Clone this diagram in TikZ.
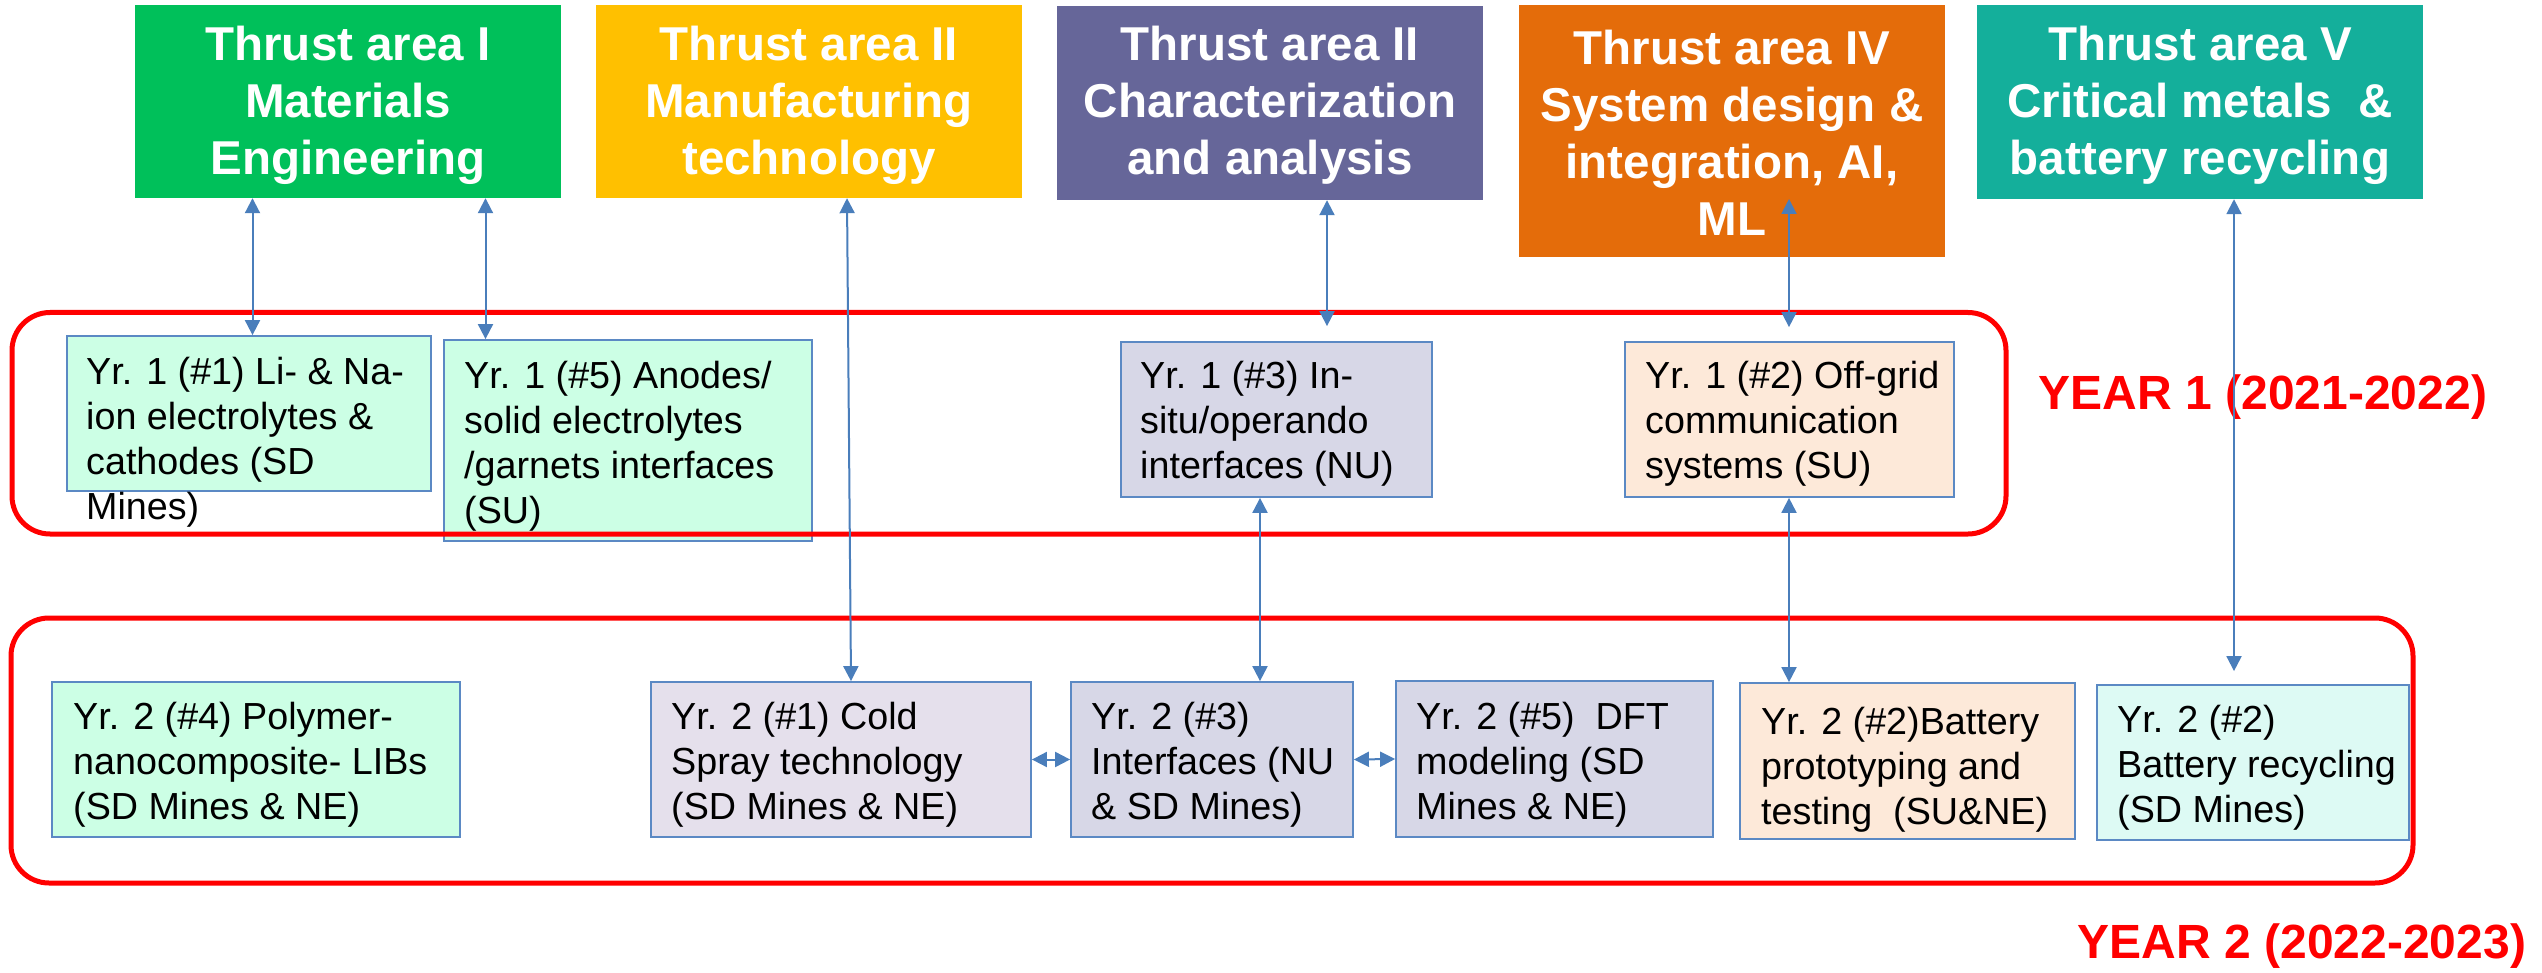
\documentclass[tikz,border=0pt]{standalone}
\usepackage{fontspec}
\setmainfont{Liberation Sans}
\newfontfamily\arialf{Liberation Sans}
\usetikzlibrary{arrows.meta}

\definecolor{tgreen}{HTML}{00C05A}
\definecolor{tyellow}{HTML}{FFC000}
\definecolor{tpurple}{HTML}{666699}
\definecolor{torange}{HTML}{E46C0A}
\definecolor{tteal}{HTML}{14AF9B}
\definecolor{cgreen}{HTML}{CCFFE5}
\definecolor{clav}{HTML}{D7D7E7}
\definecolor{clavlight}{HTML}{E5E0EC}
\definecolor{cpeach}{HTML}{FDE9D9}
\definecolor{ccyan}{HTML}{DDFAF4}
\definecolor{cborder}{HTML}{5B89C4}
\definecolor{linkblue}{HTML}{4A7EBB}
\definecolor{yearred}{HTML}{FF0000}

\tikzset{
  thrust/.style={rectangle, inner sep=0pt, minimum width=426pt, align=center,
    text=white, font=\arialf\fontsize{47.5}{57}\selectfont\bfseries},
  thrusttext/.style={inner sep=0pt, align=center, text=white,
    font=\arialf\fontsize{47.5}{57}\selectfont\bfseries},
  card/.style={rectangle, draw=cborder, line width=1.8pt, inner sep=0pt},
  cardtext/.style={anchor=north west, inner sep=0pt, align=left,
    font=\arialf\fontsize{37.7}{45}\selectfont},
  yearframe/.style={rectangle, draw=yearred, line width=5pt, rounded corners=38pt, inner sep=0pt},
  yearlabel/.style={text=yearred, inner sep=0pt, font=\arialf\fontsize{48}{56}\selectfont\bfseries},
  link/.style={draw=linkblue, line width=2pt,
    {Triangle[length=15pt,width=15pt]}-{Triangle[length=15pt,width=15pt]}}
}

\begin{document}
\begin{tikzpicture}[x=1pt,y=-1pt]
\useasboundingbox (0,0) rectangle (2542,973);

% thrust areas: coloured blocks, titles set slightly below centre
\node[thrust, fill=tgreen,  minimum height=193pt] (t1) at (348,101.5) {};
\node[thrusttext] (t1-t) at (348,105) {Thrust area I\\Materials\\Engineering};
\node[thrust, fill=tyellow, minimum height=193pt] (t2) at (809,101.5) {};
\node[thrusttext] (t2-t) at (809,105) {Thrust area II\\Manufacturing\\technology};
\node[thrust, fill=tpurple, minimum height=194pt] (t3) at (1270,103) {};
\node[thrusttext] (t3-t) at (1270,105) {Thrust area II\\Characterization\\and analysis};
\node[thrust, fill=torange, minimum height=252pt] (t4) at (1732,131) {};
\node[thrusttext] (t4-t) at (1732,133) {Thrust area IV\\System design \&\\integration, AI,\\ML};
\node[thrust, fill=tteal, minimum width=446pt, minimum height=194pt] (t5) at (2200,102) {};
\node[thrusttext] (t5-t) at (2200,105) {Thrust area V\\Critical metals~ \&\\battery recycling};

% year 1 projects
\node[card, fill=cgreen, minimum width=364pt, minimum height=155pt] (y1a) at (249,413.5) {};
\node[cardtext] (y1a-t) at (86,357) {Yr. 1 (\#1) Li- \& Na-\\ion electrolytes \&\\cathodes (SD\\Mines)};
\node[card, fill=cgreen, minimum width=368pt, minimum height=201pt] (y1b) at (628,440.5) {};
\node[cardtext] (y1b-t) at (464,361) {Yr. 1 (\#5) Anodes/\\solid electrolytes\\/garnets interfaces\\(SU)};
\node[card, fill=clav, minimum width=311pt, minimum height=155pt] (y1c) at (1276.5,419.5) {};
\node[cardtext] (y1c-t) at (1140,361) {Yr. 1 (\#3) In-\\situ/operando\\interfaces (NU)};
\node[card, fill=cpeach, minimum width=329pt, minimum height=155pt] (y1d) at (1789.5,419.5) {};
\node[cardtext] (y1d-t) at (1645,361) {Yr. 1 (\#2) Off-grid\\communication\\systems (SU)};

% year 2 projects
\node[card, fill=cgreen, minimum width=408pt, minimum height=155pt] (pl) at (256,759.5) {};
\node[cardtext] (pl-t) at (73,702) {Yr. 2 (\#4) Polymer-\\nanocomposite- LIBs\\(SD Mines \& NE)};
\node[card, fill=clavlight, minimum width=380pt, minimum height=155pt] (cs) at (841,759.5) {};
\node[cardtext] (cs-t) at (671,702) {Yr. 2 (\#1) Cold\\Spray technology\\(SD Mines \& NE)};
\node[card, fill=clav, minimum width=282pt, minimum height=155pt] (if3) at (1212,759.5) {};
\node[cardtext] (if3-t) at (1091,702) {Yr. 2 (\#3)\\Interfaces (NU\\\& SD Mines)};
\node[card, fill=clav, minimum width=317pt, minimum height=156pt] (dft) at (1554.5,759) {};
\node[cardtext] (dft-t) at (1416,702) {Yr. 2 (\#5)~ DFT\\modeling (SD\\Mines \& NE)};
\node[card, fill=cpeach, minimum width=335pt, minimum height=156pt] (bp) at (1907.5,761) {};
\node[cardtext] (bp-t) at (1761,707) {Yr. 2 (\#2)Battery\\prototyping and\\testing~ (SU\&NE)};
\node[card, fill=ccyan, minimum width=312pt, minimum height=155pt] (br) at (2253,762.5) {};
\node[cardtext] (br-t) at (2117,705) {Yr. 2 (\#2)\\Battery recycling\\(SD Mines)};

% year frames
\node[yearframe, minimum width=1994pt, minimum height=221.5pt] (yr1) at (1009,423.25) {};
\node[yearframe, minimum width=2402pt, minimum height=265pt] (yr2) at (1212,750.5) {};
\node[yearlabel] (yr1-l) at (2263,397) {YEAR 1 (2021-2022)};
\node[yearlabel] (yr2-l) at (2302,946) {YEAR 2 (2022-2023)};

% link columns
\coordinate (xa) at (252.5,0);
\coordinate (xb) at (485.5,0);
\coordinate (xc) at (847,0);
\coordinate (xd) at (851,0);
\coordinate (xe) at (1327,0);
\coordinate (xf) at (1789,0);
\coordinate (xg) at (1260,0);
\coordinate (xh) at (2234,0);
\coordinate (t4in) at (1789,199);

% links
\draw[link] (t1.south -| xa) -- (y1a.north -| xa);
\draw[link] (t1.south -| xb) -- (y1b.north -| xb);
\draw[link] (t2.south -| xc) -- (cs.north -| xd);
\draw[link, shorten >=15pt] (t3.south -| xe) -- (y1c.north -| xe);
\draw[link, shorten >=14pt] (t4in) -- (y1d.north -| xf);
\draw[link] (y1c.south -| xg) -- (if3.north -| xg);
\draw[link] (y1d.south -| xf) -- (bp.north -| xf);
\draw[link, shorten >=13pt] (t5.south -| xh) -- (br.north -| xh);
\draw[link] (cs.east) -- (if3.west);
\draw[link] (if3.east) -- (dft.west);
\end{tikzpicture}
\end{document}
